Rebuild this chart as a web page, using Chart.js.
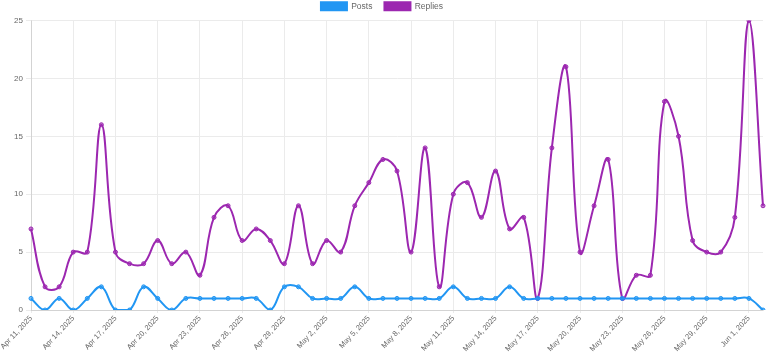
<!DOCTYPE html>
<html>
<head>
<meta charset="utf-8">
<script src="https://cdn.jsdelivr.net/npm/chart.js@4/dist/chart.umd.min.js"></script>
<style>
  html, body { margin: 0; padding: 0; background: #fff; }
  .chart-container { width: 768px; height: 352px; }
</style>
</head>
<body>
<div class="chart-container">
  <canvas id="activityChart"></canvas>
</div>
<script>
const labels = [
  'Apr 11, 2025', 'Apr 12, 2025', 'Apr 13, 2025', 'Apr 14, 2025', 'Apr 15, 2025',
  'Apr 16, 2025', 'Apr 17, 2025', 'Apr 18, 2025', 'Apr 19, 2025', 'Apr 20, 2025',
  'Apr 21, 2025', 'Apr 22, 2025', 'Apr 23, 2025', 'Apr 24, 2025', 'Apr 25, 2025',
  'Apr 26, 2025', 'Apr 27, 2025', 'Apr 28, 2025', 'Apr 29, 2025', 'Apr 30, 2025',
  'May 1, 2025', 'May 2, 2025', 'May 3, 2025', 'May 4, 2025', 'May 5, 2025',
  'May 6, 2025', 'May 7, 2025', 'May 8, 2025', 'May 9, 2025', 'May 10, 2025',
  'May 11, 2025', 'May 12, 2025', 'May 13, 2025', 'May 14, 2025', 'May 15, 2025',
  'May 16, 2025', 'May 17, 2025', 'May 18, 2025', 'May 19, 2025', 'May 20, 2025',
  'May 21, 2025', 'May 22, 2025', 'May 23, 2025', 'May 24, 2025', 'May 25, 2025',
  'May 26, 2025', 'May 27, 2025', 'May 28, 2025', 'May 29, 2025', 'May 30, 2025',
  'May 31, 2025', 'Jun 1, 2025', 'Jun 2, 2025'
];

const posts = [
  1, 0, 1, 0, 1, 2, 0, 0, 2, 1,
  0, 1, 1, 1, 1, 1, 1, 0, 2, 2,
  1, 1, 1, 2, 1, 1, 1, 1, 1, 1,
  2, 1, 1, 1, 2, 1, 1, 1, 1, 1,
  1, 1, 1, 1, 1, 1, 1, 1, 1, 1,
  1, 1, 0
];

const replies = [
  7, 2, 2, 5, 5, 16, 5, 4, 4, 6,
  4, 5, 3, 8, 9, 6, 7, 6, 4, 9,
  4, 6, 5, 9, 11, 13, 12, 5, 14, 2,
  10, 11, 8, 12, 7, 8, 1, 14, 21, 5,
  9, 13, 1, 3, 3, 18, 15, 6, 5, 5,
  8, 25, 9
];

const tickFont = { size: 7.5, family: 'Liberation Sans, Arial, sans-serif' };
const labelFont = { size: 8.5, family: 'Liberation Sans, Arial, sans-serif' };

const ctx = document.getElementById('activityChart').getContext('2d');

new Chart(ctx, {
  type: 'line',
  data: {
    labels: labels,
    datasets: [
      {
        label: 'Posts',
        data: posts,
        borderColor: '#2196F3',
        backgroundColor: '#2196F3',
        pointBackgroundColor: 'rgba(33, 150, 243, 0.6)',
        borderWidth: 2,
        pointRadius: 2,
        pointBorderWidth: 1,
        tension: 0.4
      },
      {
        label: 'Replies',
        data: replies,
        borderColor: '#9C27B0',
        backgroundColor: '#9C27B0',
        pointBackgroundColor: 'rgba(156, 39, 176, 0.6)',
        borderWidth: 2,
        pointRadius: 2,
        pointBorderWidth: 1,
        tension: 0.4
      }
    ]
  },
  options: {
    responsive: true,
    maintainAspectRatio: false,
    animation: false,
    layout: { padding: { top: -10, right: 4 } },
    plugins: {
      legend: {
        display: true,
        position: 'top',
        labels: {
          boxWidth: 26,
          boxHeight: 8,
          padding: 12,
          color: '#666',
          font: labelFont
        }
      }
    },
    scales: {
      x: {
        grid: { color: '#ebebeb', tickLength: 3 },
        afterFit: (scale) => { scale.height = 42; },
        ticks: {
          color: '#666',
          maxRotation: 47,
          minRotation: 47,
          padding: 1,
          autoSkip: true,
          maxTicksLimit: 18,
          font: tickFont
        }
      },
      y: {
        min: 0,
        max: 25,
        grid: { color: '#ebebeb', tickLength: 5 },
        afterFit: (scale) => { scale.width = 31; },
        ticks: {
          stepSize: 5,
          color: '#666',
          font: { size: 8, family: 'Liberation Sans, Arial, sans-serif' }
        }
      }
    }
  }
});
</script>
</body>
</html>
